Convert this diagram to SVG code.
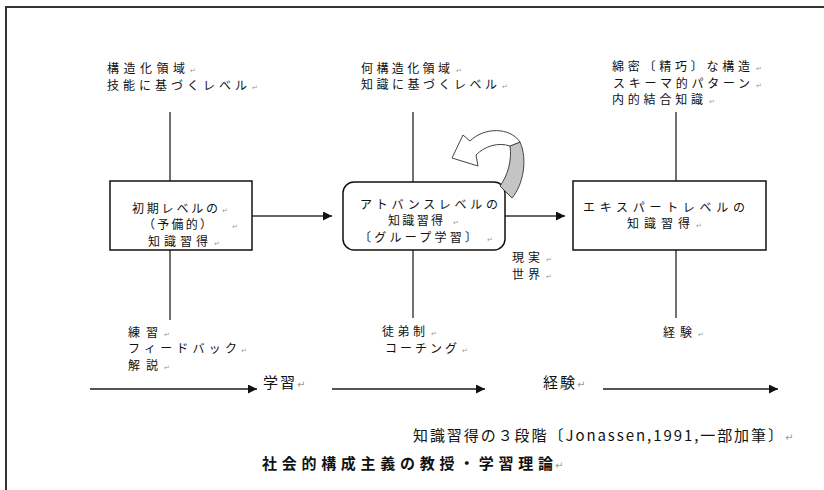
<svg xmlns="http://www.w3.org/2000/svg" width="824" height="490" viewBox="0 0 824 490">
<defs>
<style>
.t{font-family:"Noto Sans CJK JP","Noto Sans CJK SC",sans-serif;font-size:12px;fill:#111}
.big{font-size:15px}
.b{font-weight:bold}
.pm{font-family:"DejaVu Sans",sans-serif;font-size:7px;fill:#9a9a9a}
.pm2{font-family:"DejaVu Sans",sans-serif;font-size:10px;fill:#9a9a9a}
.box{fill:#fff;stroke:#111;stroke-width:1.5}
.vl{stroke:#444;stroke-width:1.5;fill:none}
.ar{stroke:#333;stroke-width:1.5;fill:none}
.ar2{stroke:#555;stroke-width:2;fill:none}
</style>
<marker id="ah" viewBox="0 0 10 10" refX="10" refY="5" markerWidth="10" markerHeight="9" markerUnits="userSpaceOnUse" orient="auto">
<path d="M0,0 L10,5 L0,10 Z" fill="#111"/>
</marker>
</defs>
<rect x="0" y="0" width="824" height="490" fill="#fff"/>
<g id="frame">
<path d="M6,490 V7 H824" fill="none" stroke="#333" stroke-width="2"/>
</g>
<g id="connectors">
<path class="vl" d="M170,112 V181 M170,250 V320"/>
<path class="vl" d="M413,112 V182 M413,250 V318"/>
<path class="vl" d="M676,112 V181 M676,250 V318"/>
<path class="ar" d="M252,216 H332" marker-end="url(#ah)"/>
<path class="ar" d="M505,216 H565" marker-end="url(#ah)"/>
<path class="ar2" d="M90,389 H257" marker-end="url(#ah)"/>
<path class="ar2" d="M332,389 H485" marker-end="url(#ah)"/>
<path class="ar2" d="M603,389 H778" marker-end="url(#ah)"/>
</g>
<g id="box1">
<rect class="box" x="110" y="181" width="142" height="69"/>
<text class="t" x="132" y="212.5" textLength="86" lengthAdjust="spacing">初期レベルの</text><text class="pm" x="222" y="212.5">↵</text>
<text class="t" x="143" y="229" textLength="69" lengthAdjust="spacing">（予備的）</text><text class="pm" x="232" y="229">↵</text>
<text class="t" x="148" y="245.5" textLength="60" lengthAdjust="spacing">知識習得</text><text class="pm" x="214" y="245.5">↵</text>
</g>
<g id="box2">
<rect class="box" x="343" y="182" width="162" height="68" rx="11"/>
<text class="t" x="360" y="208.5" textLength="138" lengthAdjust="spacing">アトバンスレベルの</text>
<text class="t" x="388" y="225" textLength="55" lengthAdjust="spacing">知識習得</text><text class="pm" x="453" y="225">↵</text>
<text class="t" x="359" y="241.5" textLength="118" lengthAdjust="spacing">〔グループ学習〕</text><text class="pm" x="487" y="241.5">↵</text>
</g>
<g id="box3">
<rect class="box" x="573" y="181" width="193" height="69"/>
<text class="t" x="583" y="211.5" textLength="162" lengthAdjust="spacing">エキスパートレベルの</text>
<text class="t" x="627" y="228" textLength="63" lengthAdjust="spacing">知識習得</text><text class="pm" x="696" y="228">↵</text>
</g>
<g id="loop-arrow">
<path d="M520,142 C528,160 523,185 512,198 L500,186 C508,175 512,160 510,146 Z" fill="#c4c4c4" stroke="#444" stroke-width="1"/>
<path d="M520,142 C510,127 484,127 470,141 L463,135 L452,158 L478,166 L476,155 C485,146 498,142 510,146 Z" fill="#fff" stroke="#444" stroke-width="1"/>
</g>
<g id="top1">
<text class="t" x="107" y="72.5" textLength="78" lengthAdjust="spacing">構造化領域</text><text class="pm" x="190" y="72.5">↵</text>
<text class="t" x="107" y="89.5" textLength="140" lengthAdjust="spacing">技能に基づくレベル</text><text class="pm" x="252" y="89.5">↵</text>
</g>
<g id="top2">
<text class="t" x="361" y="72.5" textLength="89" lengthAdjust="spacing">何構造化領域</text><text class="pm" x="456" y="72.5">↵</text>
<text class="t" x="361" y="89" textLength="136" lengthAdjust="spacing">知識に基づくレベル</text><text class="pm" x="502" y="89">↵</text>
</g>
<g id="top3">
<text class="t" x="612" y="71" textLength="138" lengthAdjust="spacing">綿密〔精巧〕な構造</text><text class="pm" x="756" y="71">↵</text>
<text class="t" x="613" y="87.5" textLength="137" lengthAdjust="spacing">スキーマ的パターン</text><text class="pm" x="756" y="87.5">↵</text>
<text class="t" x="612" y="104" textLength="91" lengthAdjust="spacing">内的結合知識</text><text class="pm" x="709" y="104">↵</text>
</g>
<g id="bottom1">
<text class="t" x="128" y="336.5" textLength="30" lengthAdjust="spacing">練習</text><text class="pm" x="164" y="336.5">↵</text>
<text class="t" x="128" y="353" textLength="109" lengthAdjust="spacing">フィードバック</text><text class="pm" x="241" y="353">↵</text>
<text class="t" x="128" y="369.5" textLength="30" lengthAdjust="spacing">解説</text><text class="pm" x="164" y="369.5">↵</text>
</g>
<g id="bottom2">
<text class="t" x="382" y="336" textLength="43" lengthAdjust="spacing">徒弟制</text><text class="pm" x="431" y="336">↵</text>
<text class="t" x="385" y="353" textLength="72" lengthAdjust="spacing">コーチング</text><text class="pm" x="462" y="353">↵</text>
</g>
<g id="bottom3">
<text class="t" x="663" y="336.5" textLength="29" lengthAdjust="spacing">経験</text><text class="pm" x="698" y="336.5">↵</text>
</g>
<g id="reality">
<text class="t" x="512" y="262" textLength="28" lengthAdjust="spacing">現実</text><text class="pm" x="546" y="262">↵</text>
<text class="t" x="512" y="279" textLength="28" lengthAdjust="spacing">世界</text><text class="pm" x="546" y="279">↵</text>
</g>
<g id="stage-labels">
<text class="t big" x="263" y="388" textLength="32" lengthAdjust="spacing">学習</text><text class="pm2" x="297" y="388">↵</text>
<text class="t big" x="543" y="388" textLength="32" lengthAdjust="spacing">経験</text><text class="pm2" x="577" y="388">↵</text>
</g>
<g id="captions">
<text class="t" style="font-size:15px" x="413" y="441" textLength="370" lengthAdjust="spacing">知識習得の３段階〔Jonassen,1991,一部加筆〕</text><text class="pm2" x="785" y="441">↵</text>
<text class="t b" style="font-size:15px" x="262" y="469" textLength="291" lengthAdjust="spacing">社会的構成主義の教授・学習理論</text><text class="pm2" x="555" y="469">↵</text>
</g>
</svg>
